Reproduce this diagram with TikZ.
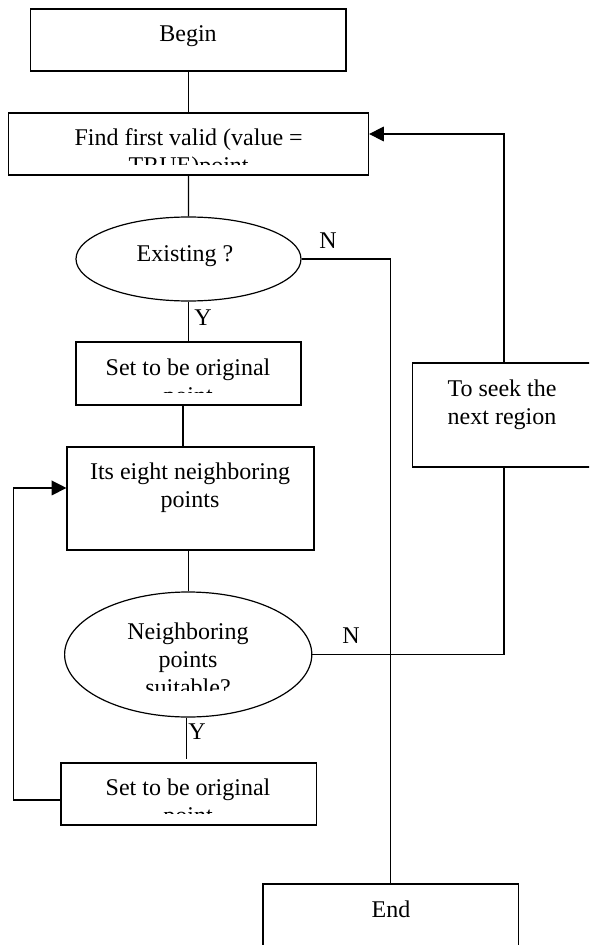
\documentclass[tikz,border=0pt]{standalone}
\usepackage{fontspec}
\setmainfont{Liberation Serif}
\usetikzlibrary{arrows.meta,shapes.geometric,calc}
\tikzset{
  box/.style={draw, rectangle, line width=0.9pt, inner sep=0pt},
  oval/.style={draw, ellipse, line width=0.9pt, inner sep=0pt},
  txt/.style={inner sep=0pt, anchor=base, font=\fontsize{18pt}{21pt}\selectfont},
  conn/.style={line width=0.9pt},
  arr/.style={line width=0.9pt, -{Triangle[length=11pt,width=11pt]}}
}
\begin{document}
\begin{tikzpicture}[x=0.75pt, y=-0.75pt]
\useasboundingbox (0,0) rectangle (589,945);
\clip (0,0) rectangle (589,945);
% shapes
\node[box, minimum width=236.4pt, minimum height=46.5pt] (begin) at (188.4,40) {};
\node[box, minimum width=270.2pt, minimum height=46.5pt] (find) at (188.4,144) {};
\node[oval, minimum width=168.75pt, minimum height=63pt] (ex) at (188.5,259) {};
\node[box, minimum width=168.75pt, minimum height=47.25pt] (set1) at (188.5,373.5) {};
\node[box, minimum width=185.25pt, minimum height=77.25pt] (its) at (190.5,498.5) {};
\node[box, minimum width=137.25pt, minimum height=78pt] (seek) at (504,415) {};
\node[oval, minimum width=185.4pt, minimum height=93.75pt] (nb) at (188.2,654.5) {};
\node[box, minimum width=191.5pt, minimum height=46.5pt] (set2) at (188.6,794) {};
\node[box, minimum width=191.5pt, minimum height=47.25pt] (end) at (390.7,915.5) {};
% texts
\node[txt] (begint) at (188,42) {Begin};
\begin{scope}
\clip (8.3,113) rectangle (368.5,165);
\node[txt] (findt1) at (188.6,146) {Find first valid (value =};
\node[txt] (findt2) at (188.6,174) {TRUE)point};
\end{scope}
\node[txt] (ext) at (185,261) {Existing ?};
\begin{scope}
\clip (76,342) rectangle (301,392);
\node[txt] (set1t1) at (188,375) {Set to be original};
\node[txt] (set1t2) at (188,403) {point};
\end{scope}
\node[txt] (itst1) at (190,479) {Its eight neighboring};
\node[txt] (itst2) at (190,507) {points};
\node[txt] (seekt1) at (502,396) {To seek the};
\node[txt] (seekt2) at (502,424) {next region};
\begin{scope}
\clip (60,590) rectangle (320,690.7);
\node[txt] (nbt1) at (188,639) {Neighboring};
\node[txt] (nbt2) at (188,667) {points};
\node[txt] (nbt3) at (188,695) {suitable?};
\end{scope}
\begin{scope}
\clip (61,763) rectangle (316.3,813.7);
\node[txt] (set2t1) at (188,795) {Set to be original};
\node[txt] (set2t2) at (188,823) {point};
\end{scope}
\node[txt] (endt) at (391,917) {End};
% labels
\node[txt] (n1) at (328,248) {N};
\node[txt] (y1) at (203,325) {Y};
\node[txt] (n2) at (351,643) {N};
\node[txt] (y2) at (197,739) {Y};
% connectors
\coordinate (yend) at (186.7,759);
\coordinate (lp) at (13.5,800);
\draw[conn] (begin.south) -- (find.north);
\draw[conn] (find.south) -- (ex.north);
\draw[conn] (ex.south) -- (set1.north);
\draw[conn] ([xshift=-4.1pt]set1.south) -- ([xshift=-4.1pt]set1.south |- its.north);
\draw[conn] (nb.north |- its.south) -- (nb.north);
\draw[conn] (nb.south -| yend) -- (yend);
\draw[conn] (ex.east) -| (end.north);
\draw[conn] (nb.east) -| (seek.south);
\draw[arr] (seek.north) |- ([yshift=7.5pt]find.east);
\draw[arr] ([yshift=-4.5pt]set2.west) -- (lp) |- ([yshift=7.9pt]its.west);
\end{tikzpicture}
\end{document}
